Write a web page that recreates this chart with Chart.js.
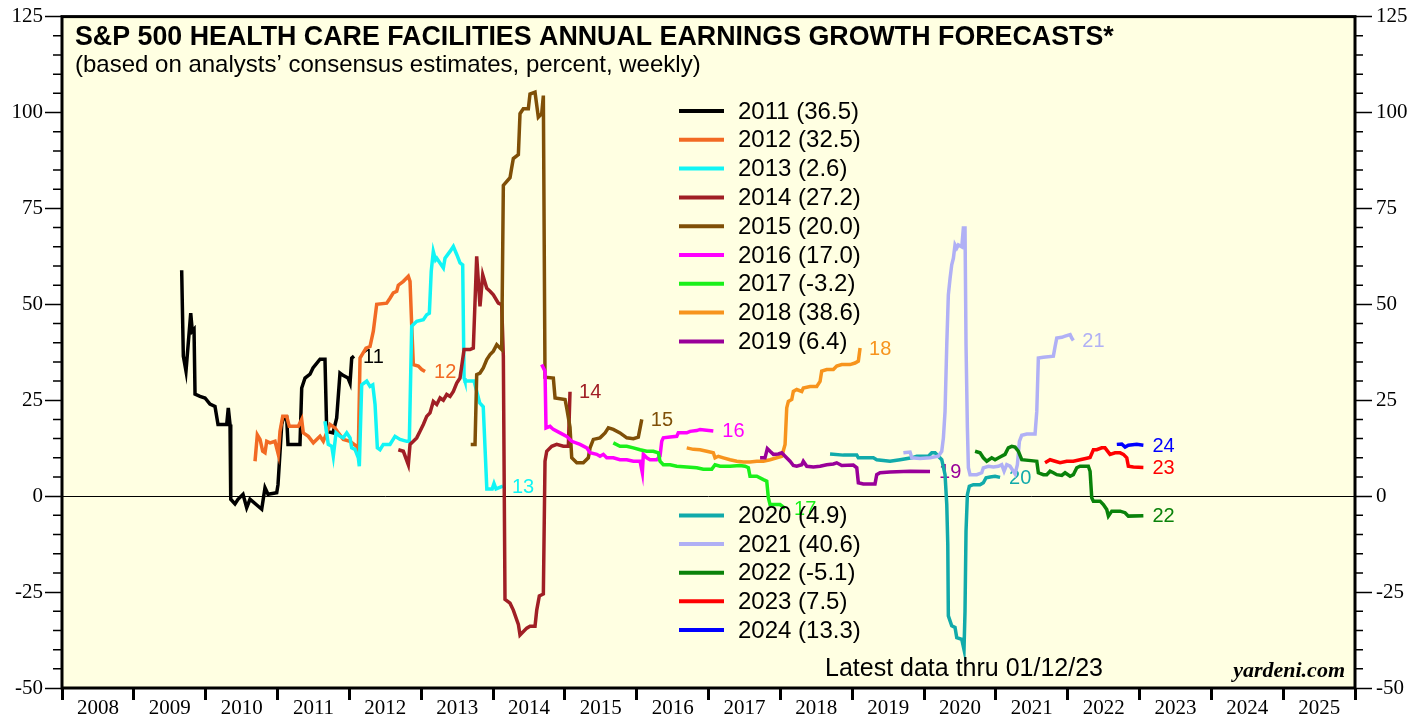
<!DOCTYPE html>
<html>
<head>
<meta charset="utf-8">
<script src="https://cdn.jsdelivr.net/npm/chart.js@4.4.1/dist/chart.umd.min.js"></script>
<style>
  html, body { margin: 0; padding: 0; background: #fff; }
  canvas { display: block; }
</style>
</head>
<body>
<canvas id="chart" width="1427" height="719"></canvas>
<script>
// weekly consensus forecasts, [time in years, percent]
const f2011 = [[2009.666,58.9],[2009.689,36.5],[2009.726,32.6],[2009.792,47.7],[2009.814,43],[2009.838,43.5],[2009.852,26.6],[2009.921,26],[2009.991,25.6],[2010.060,24],[2010.130,23.4],[2010.172,18.7],[2010.293,18.7],[2010.315,23],[2010.339,18.7],[2010.349,-0.8],[2010.408,-2],[2010.450,-0.8],[2010.520,0.5],[2010.571,-3],[2010.617,-0.8],[2010.780,-3.4],[2010.826,2.2],[2010.868,0.5],[2010.989,0.9],[2011.007,3],[2011.059,18.7],[2011.077,20],[2011.128,20.4],[2011.146,13.5],[2011.313,13.5],[2011.337,28.2],[2011.383,30.8],[2011.453,31.8],[2011.494,33.4],[2011.592,35.7],[2011.661,35.7],[2011.685,16.9],[2011.773,16.5],[2011.824,20.4],[2011.870,32.1],[2011.912,31.5],[2011.982,30.8],[2012.010,29.5],[2012.033,36],[2012.065,36.5]];
const f2012 = [[2010.687,9.1],[2010.719,16],[2010.757,14.8],[2010.794,11.7],[2010.826,11.3],[2010.850,14.3],[2010.896,13.9],[2010.965,14.3],[2011.011,10.9],[2011.035,16.9],[2011.073,20.8],[2011.128,20.8],[2011.164,18.2],[2011.290,18.2],[2011.337,20],[2011.359,16.5],[2011.429,15.6],[2011.499,13.9],[2011.592,15.6],[2011.638,14.3],[2011.731,18.7],[2011.801,17.8],[2011.847,16.5],[2011.916,14.8],[2012.010,14.3],[2012.103,13],[2012.125,11.7],[2012.149,36],[2012.232,38.6],[2012.288,39],[2012.334,43],[2012.381,50],[2012.520,50.3],[2012.566,51.6],[2012.612,53],[2012.660,53.4],[2012.682,55],[2012.752,56],[2012.821,57.3],[2012.845,56],[2012.868,44.7],[2012.891,34.3],[2012.960,33.9],[2013.008,33],[2013.054,32.5]];
const f2013 = [[2011.661,19.5],[2011.707,13.5],[2011.755,13],[2011.777,10.4],[2011.815,16.5],[2011.870,15.6],[2011.916,15.2],[2011.964,16.5],[2012.010,15.2],[2012.033,12.6],[2012.079,12.2],[2012.125,10],[2012.139,7.8],[2012.172,29],[2012.242,30],[2012.288,28.6],[2012.326,29],[2012.358,23.9],[2012.390,12.6],[2012.427,12.1],[2012.473,13.5],[2012.566,13.5],[2012.636,15.6],[2012.706,14.8],[2012.799,14.3],[2012.835,14.3],[2012.868,44.3],[2012.938,45.6],[2013.030,46],[2013.077,47.3],[2013.114,47.7],[2013.140,58.6],[2013.169,63.8],[2013.200,61.6],[2013.217,62],[2013.309,59.5],[2013.332,62],[2013.402,63.8],[2013.448,65.1],[2013.495,63],[2013.541,60.8],[2013.578,60.3],[2013.597,30.8],[2013.610,30],[2013.736,30],[2013.815,24.3],[2013.864,23.3],[2013.914,1.9],[2013.989,1.9],[2014.014,3.3],[2014.042,1.9],[2014.138,2.6]];
const f2014 = [[2012.682,12.1],[2012.752,11.7],[2012.821,8.2],[2012.845,13.5],[2012.891,14.3],[2012.938,15.2],[2012.984,16.9],[2013.030,18.7],[2013.077,20.8],[2013.123,21.7],[2013.169,24.7],[2013.217,23.9],[2013.263,25.6],[2013.309,25],[2013.356,26.5],[2013.402,26],[2013.448,27.3],[2013.495,29.5],[2013.541,30.8],[2013.597,38.2],[2013.680,38.2],[2013.726,38.6],[2013.773,62.5],[2013.819,49.5],[2013.857,57.7],[2013.913,54.2],[2013.959,53.4],[2014.005,52.5],[2014.074,50.3],[2014.121,49.9],[2014.144,36.4],[2014.167,-26.9],[2014.237,-27.9],[2014.283,-29.7],[2014.353,-33.4],[2014.376,-36.2],[2014.470,-34.4],[2014.515,-33.9],[2014.585,-33.9],[2014.609,-29.7],[2014.645,-26],[2014.701,-25.5],[2014.724,9.1],[2014.748,11.7],[2014.818,13],[2014.887,13.5],[2014.979,13],[2015.049,13],[2015.072,27.2]];
const f2015 = [[2013.690,13.5],[2013.750,13.5],[2013.773,31.7],[2013.819,32.1],[2013.865,33.4],[2013.913,35.6],[2013.959,36.9],[2014.005,37.8],[2014.052,39.5],[2014.098,38.6],[2014.121,38.2],[2014.144,81],[2014.237,83],[2014.261,85.7],[2014.283,88],[2014.353,89],[2014.376,99.7],[2014.422,101],[2014.492,101],[2014.515,104.8],[2014.585,105.3],[2014.631,98.8],[2014.678,99.7],[2014.701,104.4],[2014.724,31],[2014.840,30.8],[2014.864,25.6],[2015.003,25.2],[2015.026,23],[2015.072,18],[2015.096,10],[2015.166,8.7],[2015.257,8.7],[2015.327,10],[2015.351,12.6],[2015.397,14.8],[2015.490,15.2],[2015.560,16.5],[2015.606,17.8],[2015.675,17.4],[2015.768,16.5],[2015.862,15.2],[2015.954,15],[2016.023,15.4],[2016.071,20]];
const f2016 = [[2014.678,34.3],[2014.724,32.6],[2014.738,17.8],[2014.794,18.2],[2014.840,17.4],[2014.933,16.5],[2015.026,15.6],[2015.096,14.3],[2015.212,13.5],[2015.305,12.6],[2015.351,11.3],[2015.444,10.9],[2015.490,10.4],[2015.536,10.9],[2015.583,10],[2015.675,10],[2015.768,9.5],[2015.862,9.5],[2015.954,9.1],[2016.047,9.1],[2016.079,6.1],[2016.093,10.9],[2016.140,10],[2016.186,9.5],[2016.279,9.5],[2016.325,10.4],[2016.349,14.3],[2016.371,15.2],[2016.465,15.4],[2016.558,15.6],[2016.580,16.5],[2016.697,16.5],[2016.743,16.9],[2016.836,17.1],[2016.882,17.4],[2017.067,17]];
const f2017 = [[2015.675,13.9],[2015.768,13],[2015.862,13],[2015.954,12.6],[2016.047,12.1],[2016.140,11.7],[2016.232,11.7],[2016.302,11.3],[2016.325,9.1],[2016.371,8.2],[2016.465,8.2],[2016.558,7.8],[2016.697,7.6],[2016.836,7.4],[2016.928,7],[2017.045,7],[2017.091,8.2],[2017.161,7.8],[2017.300,7.8],[2017.439,8],[2017.509,7.8],[2017.555,7.4],[2017.578,5.2],[2017.672,5.2],[2017.764,4.3],[2017.811,3.9],[2017.833,-0.4],[2017.857,-2.2],[2017.996,-2.2],[2018.066,-3.2]];
const f2018 = [[2016.697,12.6],[2016.789,12.2],[2016.882,12.1],[2016.975,11.7],[2017.067,11.3],[2017.091,10],[2017.137,10.4],[2017.207,10],[2017.300,9.5],[2017.393,9.1],[2017.485,8.9],[2017.578,8.9],[2017.672,9.1],[2017.764,9.1],[2017.857,9.5],[2017.950,10],[2018.020,10.4],[2018.066,13.5],[2018.089,23],[2018.112,24.7],[2018.159,25.2],[2018.181,27.3],[2018.228,27.8],[2018.298,27.3],[2018.320,28.2],[2018.414,28.6],[2018.507,28.6],[2018.553,29.9],[2018.576,32.6],[2018.646,33],[2018.738,33],[2018.785,33.9],[2018.855,34.3],[2018.970,34.3],[2019.040,34.7],[2019.086,35.2],[2019.110,38.6]];
const f2019 = [[2017.718,10],[2017.787,10],[2017.819,12.4],[2017.857,11.7],[2017.903,10.9],[2017.972,11],[2018.020,11.3],[2018.066,10.4],[2018.135,9.1],[2018.181,8],[2018.228,7.8],[2018.298,8.2],[2018.320,9.1],[2018.368,7.8],[2018.460,7.6],[2018.553,7.8],[2018.646,8.2],[2018.738,8.4],[2018.785,8.7],[2018.855,8],[2019.016,8.1],[2019.064,7.4],[2019.086,3.5],[2019.155,3.2],[2019.318,3.2],[2019.342,5.6],[2019.388,6.1],[2019.527,6.3],[2019.806,6.5],[2020.084,6.4]];
const f2020 = [[2018.692,11],[2018.877,10.7],[2019.064,10.7],[2019.086,10],[2019.295,10],[2019.342,9.5],[2019.527,9.1],[2019.667,9.5],[2019.830,10],[2019.899,10.4],[2020.061,10.4],[2020.108,11.3],[2020.154,11.3],[2020.200,10.4],[2020.247,9.5],[2020.293,5.6],[2020.317,-2.2],[2020.331,-12.6],[2020.339,-31.2],[2020.386,-33.8],[2020.432,-34.2],[2020.456,-36.9],[2020.526,-37.3],[2020.557,-40],[2020.571,-30],[2020.585,-9.1],[2020.604,0.4],[2020.631,2.6],[2020.687,3],[2020.780,3],[2020.826,3.5],[2020.864,4.8],[2020.920,5],[2020.989,5.2],[2021.059,4.9]];
const f2021 = [[2019.713,11.3],[2019.806,11.5],[2019.830,10],[2019.945,9.8],[2020.084,10],[2020.200,10.4],[2020.247,11.7],[2020.270,15.2],[2020.293,22.1],[2020.317,39.5],[2020.339,52.5],[2020.363,56.8],[2020.386,60.3],[2020.409,62],[2020.432,65.5],[2020.456,64.7],[2020.478,65.5],[2020.526,65],[2020.548,69.9],[2020.571,69.9],[2020.585,39.5],[2020.604,17.8],[2020.618,7.4],[2020.641,5.6],[2020.734,5.6],[2020.804,6.1],[2020.826,7.4],[2020.896,7.8],[2020.966,7.6],[2021.035,7.8],[2021.082,8.2],[2021.115,6.5],[2021.152,8.2],[2021.198,7.8],[2021.268,5.8],[2021.300,8.2],[2021.328,14.3],[2021.361,15.9],[2021.431,16.2],[2021.546,16.2],[2021.570,22.1],[2021.592,36],[2021.662,36.2],[2021.801,36.5],[2021.825,39],[2021.848,41.2],[2021.918,41.4],[2021.964,41.7],[2022.034,42.1],[2022.057,41.2],[2022.079,40.6]];
const f2022 = [[2020.711,11.7],[2020.780,11.3],[2020.826,10],[2020.874,9.1],[2020.943,10],[2020.989,9.5],[2021.059,10.2],[2021.128,10.9],[2021.174,12.6],[2021.222,13],[2021.268,12.8],[2021.314,11.7],[2021.361,9.5],[2021.522,9.2],[2021.570,9.1],[2021.592,6.1],[2021.662,5.6],[2021.709,5.6],[2021.755,6.5],[2021.801,6.1],[2021.848,5.6],[2021.918,5.4],[2021.964,6.1],[2022.034,5.2],[2022.079,5.6],[2022.127,7.4],[2022.172,7.8],[2022.288,7.8],[2022.312,6.5],[2022.335,-0.4],[2022.358,-1.3],[2022.451,-1.3],[2022.497,-2.2],[2022.544,-3.5],[2022.567,-5.2],[2022.614,-3.9],[2022.730,-3.9],[2022.799,-4.3],[2022.845,-5.2],[2023.054,-5.1]];
const f2023 = [[2021.685,8.7],[2021.755,9.5],[2021.825,9.1],[2021.894,8.7],[2021.987,9.1],[2022.079,9.1],[2022.172,9.5],[2022.266,9.9],[2022.312,10.1],[2022.358,12.1],[2022.405,12.1],[2022.474,12.6],[2022.520,12.6],[2022.590,10.9],[2022.660,11.3],[2022.730,11.3],[2022.776,10.9],[2022.823,10],[2022.845,7.8],[2022.915,7.6],[2023.054,7.5]];
const f2024 = [[2022.684,13.5],[2022.753,13.6],[2022.799,12.8],[2022.845,13.3],[2022.962,13.5],[2023.054,13.3]];

const forecastYears = ['2011','2012','2013','2014','2015','2016','2017','2018','2019','2020','2021','2022','2023','2024'];
const latestValues = ['36.5','32.5','2.6','27.2','20.0','17.0','-3.2','38.6','6.4','4.9','40.6','-5.1','7.5','13.3'];
const seriesData = [f2011,f2012,f2013,f2014,f2015,f2016,f2017,f2018,f2019,f2020,f2021,f2022,f2023,f2024];
const colors = ['#000000','#F26A24','#11F5F5','#A01F25','#7F4F07','#FF00FF','#1AF01A','#F7941D','#990099','#11AAAA','#B0B0F5','#0A820A','#FF0000','#0000FF'];

const sans = '"Liberation Sans", Arial, sans-serif';
const serif = '"Liberation Serif", "Times New Roman", serif';
const cream = '#FFFFE2';

const datasets = seriesData.map((d, i) => ({
  label: forecastYears[i] + ' (' + latestValues[i] + ')',
  data: d.map(p => ({x: p[0], y: p[1]})),
  borderColor: colors[i],
  backgroundColor: colors[i],
  borderWidth: 3.5,
  pointRadius: 0,
  tension: 0,
  fill: false,
  order: seriesData.length - i
}));

const deco = {
  id: 'deco',
  beforeDraw(chart) {
    const {ctx, chartArea: a} = chart;
    ctx.save();
    ctx.fillStyle = '#fff';
    ctx.fillRect(0, 0, chart.width, chart.height);
    ctx.fillStyle = cream;
    ctx.fillRect(a.left, a.top, a.right - a.left, a.bottom - a.top);
    ctx.restore();
  },
  beforeDatasetsDraw(chart) {
    const {ctx, chartArea: a, scales} = chart;
    const y = scales.y, x = scales.x;
    ctx.save();
    // zero line
    const y0 = Math.round(y.getPixelForValue(0)) + 0.5;
    ctx.strokeStyle = '#000';
    ctx.lineWidth = 1;
    ctx.beginPath();
    ctx.moveTo(a.left, y0);
    ctx.lineTo(a.right, y0);
    ctx.stroke();
    // minor ticks
    ctx.lineWidth = 1.5;
    for (let v = -45; v < 125; v += 5) {
      if (v % 25 === 0) continue;
      const py = y.getPixelForValue(v);
      ctx.beginPath();
      ctx.moveTo(a.left - 9, py);
      ctx.lineTo(a.left, py);
      ctx.moveTo(a.right, py);
      ctx.lineTo(a.right + 8, py);
      ctx.stroke();
    }
    // series end labels
    ctx.font = '20px ' + sans;
    ctx.textAlign = 'left';
    ctx.textBaseline = 'middle';
    seriesData.forEach((d, i) => {
      const last = d[d.length - 1];
      ctx.fillStyle = colors[i];
      ctx.fillText(forecastYears[i].slice(2), x.getPixelForValue(last[0]) + 9, y.getPixelForValue(last[1]) + 1);
    });
    ctx.restore();
  },
  afterDraw(chart) {
    const {ctx, chartArea: a} = chart;
    ctx.save();
    ctx.strokeStyle = '#000';
    ctx.lineWidth = 3;
    ctx.strokeRect(a.left, a.top, a.right - a.left, a.bottom - a.top);

    // legend in two groups
    ctx.font = '24px ' + sans;
    ctx.textAlign = 'left';
    ctx.textBaseline = 'middle';
    chart.data.datasets.forEach((ds, i) => {
      const ly = i < 9 ? 111 + i * 28.8 : 515.5 + (i - 9) * 28.6;
      ctx.strokeStyle = ds.borderColor;
      ctx.lineWidth = 4;
      ctx.beginPath();
      ctx.moveTo(679, ly);
      ctx.lineTo(724, ly);
      ctx.stroke();
      ctx.fillStyle = '#000';
      ctx.fillText(ds.label, 738, ly + 1);
    });

    ctx.textBaseline = 'alphabetic';
    ctx.fillStyle = '#000';
    ctx.font = 'bold 26.8px ' + sans;
    ctx.fillText('S&P 500 HEALTH CARE FACILITIES ANNUAL EARNINGS GROWTH FORECASTS*', 75, 45);
    ctx.font = '24px ' + sans;
    ctx.fillText('(based on analysts\u2019 consensus estimates, percent, weekly)', 75, 72);
    ctx.font = '25px ' + sans;
    ctx.fillText('Latest data thru 01/12/23', 825, 676);
    ctx.font = 'italic bold 22px ' + serif;
    ctx.textAlign = 'right';
    ctx.fillText('yardeni.com', 1345, 677);
    ctx.restore();
  }
};

const tickFont = {family: serif, size: 21};

new Chart(document.getElementById('chart'), {
  type: 'line',
  data: {datasets},
  options: {
    responsive: false,
    animation: false,
    devicePixelRatio: 1,
    layout: {padding: {top: 15, left: 0, right: 0, bottom: 0}},
    plugins: {legend: {display: false}, tooltip: {enabled: false}},
    scales: {
      x: {
        type: 'linear',
        position: 'bottom',
        min: 2008,
        max: 2026,
        afterFit: s => { s.height = 31; },
        border: {display: false},
        grid: {drawOnChartArea: false, drawTicks: true, tickLength: 12, tickWidth: 3, tickColor: '#000'},
        ticks: {
          stepSize: 1,
          maxTicksLimit: 40,
          autoSkip: false,
          maxRotation: 0,
          labelOffset: 36,
          padding: -4,
          color: '#000',
          font: tickFont,
          callback: v => (v < 2026 ? String(v) : '')
        }
      },
      y: {
        position: 'left',
        min: -50,
        max: 125,
        afterFit: s => { s.width = 62; },
        border: {display: false},
        grid: {drawOnChartArea: false, drawTicks: true, tickLength: 17, tickWidth: 1.5, tickColor: '#000'},
        ticks: {stepSize: 25, padding: 2, color: '#000', font: tickFont, callback: v => String(v)}
      },
      y2: {
        position: 'right',
        min: -50,
        max: 125,
        afterFit: s => { s.width = 72; },
        border: {display: false},
        grid: {drawOnChartArea: false, drawTicks: true, tickLength: 17, tickWidth: 1.5, tickColor: '#000'},
        ticks: {stepSize: 25, padding: 4, color: '#000', font: tickFont, callback: v => String(v)}
      }
    }
  },
  plugins: [deco]
});
</script>
</body>
</html>
